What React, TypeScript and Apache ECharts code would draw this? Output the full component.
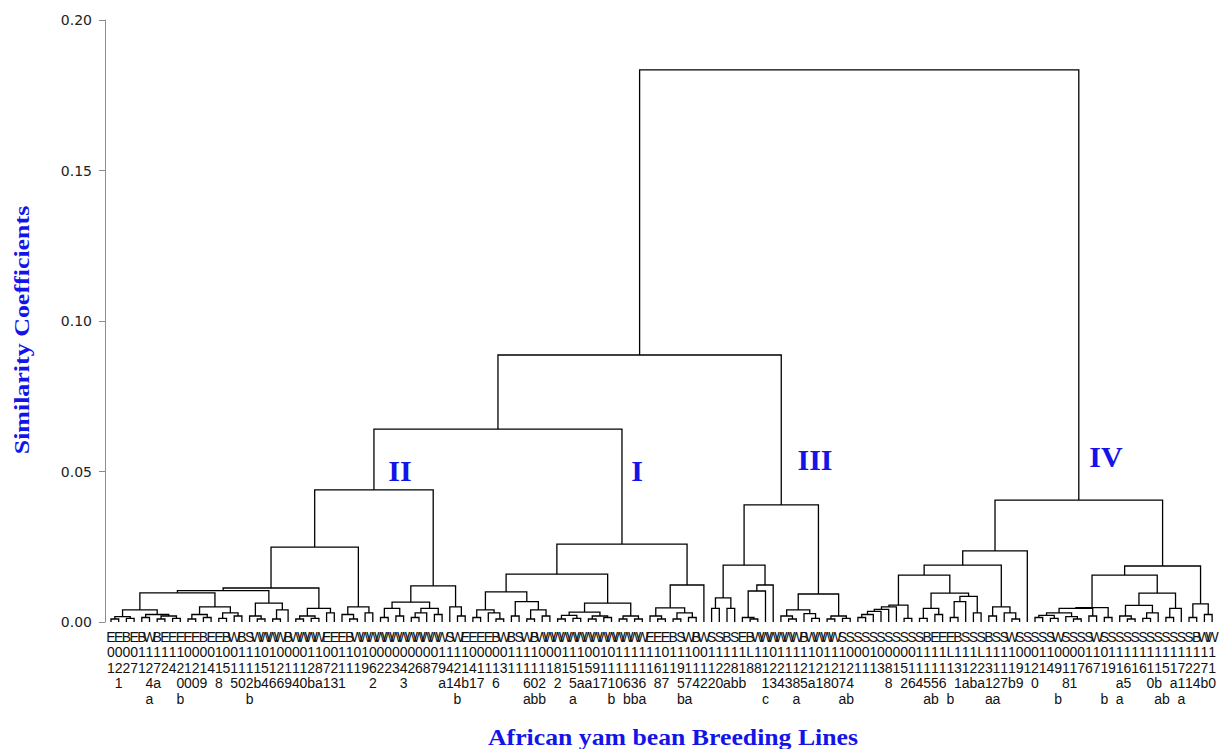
import React, { useEffect, useRef } from "react";
import * as echarts from "echarts";

// one leaf of the dendrogram
const o = null;

// node = [joining height, left child, right child]; leaves (o) are numbered left to right
// Cluster II
const c1 = [0.004, [0.0018, [0.001, o, o], [0.0012, o, o]], [0.0025, [0.0015, o, o], [0.002, [0.001, o, o], [0.0012, o, o]]]];
const s2 = [0.005, [0.0025, [0.001, o, o], [0.0015, o, o]], [0.003, [0.0012, o, o], [0.002, o, o]]];
const t2 = [0.0063, [0.002, o, [0.001, o, o]], [0.004, [0.001, o, o], o]];
const c3 = [0.0045, [0.002, [0.001, o, o], [0.0012, o, o]], [0.003, o, o]];
const b2 = [0.005, [0.0025, o, [0.001, o, o]], [0.003, o, o]];
const d1 = [0.0066, [0.0045, [0.0015, o, o], [0.002, o, o]], [0.0045, [0.003, [0.0015, o, o], o], [0.0025, o, o]]];
const d2 = [0.005, o, [0.002, o, o]];
const groupII = [0.0439, [0.0249, [0.0113, [0.0104, [0.0097, c1, s2], t2], c3], b2], [0.012, d1, d2]];

// Cluster I
const i1 = [0.01, [0.004, [0.0015, o, o], [0.003, o, [0.001, o, o]]], [0.0068, [0.002, o, o], [0.004, [0.001, o, o], [0.002, o, o]]]];
const i2 = [0.0063, [0.0033, [0.0022, [0.001, o, o], [0.0012, o, o]], [0.002, [0.001, o, o], [0.0015, o, o]]], [0.002, [0.001, o, o], [0.001, o, o]]];
const i3 = [0.0123, [0.0047, [0.002, o, [0.001, o, o]], [0.003, [0.001, o, o], [0.0015, o, o]]], o];
const groupI = [0.0259, [0.0159, i1, i2], i3];

// Cluster III
const e1 = [0.0189, [0.008, [0.0045, o, o], [0.0045, o, o]], [0.0123, [0.0103, [0.0015, o, [0.001, o, o]], o], o]];
const e2 = [0.0093, [0.004, [0.002, o, [0.001, o, o]], [0.0028, o, [0.0012, o, o]]], [0.002, [0.001, o, o], [0.0012, o, o]]];
const groupIII = [0.0389, e1, e2];

// Cluster IV
const f1 = [0.0056, [0.005, [0.0042, [0.0035, [0.0025, [0.0015, o, o], o], o], o], o], [0.0012, o, o]];
const f2 = [0.0096, [0.0045, [0.0012, o, o], [0.0025, o, o]], [0.0085, [0.0068, [0.0015, o, o], o], [0.003, o, o]]];
const f3 = [0.005, [0.002, o, o], [0.003, o, [0.001, o, o]]];
const f4 = [0.0048, [0.0045, [0.003, [0.0022, [0.0015, o, o], [0.0012, o, o]], [0.0018, o, [0.001, o, o]]], [0.002, o, o]], [0.0015, o, o]];
const f5 = [0.0096, [0.0055, [0.002, o, [0.001, o, o]], [0.003, [0.0012, o, o], o]], [0.0045, [0.0015, o, o], o]];
const f6 = [0.006, [0.0015, o, o], [0.0025, o, o]];
const groupIV = [0.0405, [0.0236, [0.0189, [0.0156, f1, f2], f3], o], [0.0186, [0.0156, f4, f5], f6]];

const rootHeights = [0.0641, 0.0887, 0.1834];
const tree = [rootHeights[2], [rootHeights[1], [rootHeights[0], groupII, groupI], groupIII], groupIV];

// leaf labels, written as five stacked character rows
const labelRow1 = "EEBEBWBEEEEEBEEBW" + "BSWWWWBWWWWEEEBWWW" + "WWWWWWWWWSWEEEEBWB" + "SWBWWWWWWWWWWWWWWE" + "EEBSWBWSSBSEBWWWWW" + "WBWWWWSSSSSSSSSSSB" + "EEEBSSSBSSWSSSSSWS" + "SSSWSSSSSSSSSSSSBWW";
const labelRow2 = "0000111111000010" + "0111010000110011010" + "000000001111000001" + "111000111001011111" + "101110011111L11011" + "111011100010000011" + "11L111L11110001100" + "0011011111111111111";
const labelRow3 = "12271272421214151111512111287211196223426879421411" + "131111118151591111111611911112281881221121212121" + "1138151111113122311191214911767191616115172271";
const labelRow4 = " 1   4a  0" + "009 8 502b" + "466940ba13" + "1   2   3 " + "   a14b17 " + "6   602 2 " + "5aa1710636" + " 87 574220" + "abb  13438" + "5a18074   " + " 8 264556 " + "1aba127b9 " + "0   81    " + " a5  0b a1" + "14b0";
const labelRow5 = "     a   b" + "        b " + "          " + "          " + "     b    " + "    abb   " + "a    b bba" + "    ba    " + "     c   a" + "     ab   " + "      ab b" + "    aa    " + "   b     b" + " a    ab a" + "    ";

const clusterNames = ["II", "I", "III", "IV"];
const yTicks = [0, 0.05, 0.1, 0.15, 0.2];

function layout(root: any) {
  const segs: number[][] = [];
  let leaf = 0;
  const walk = (n: any): { x: number; h: number } => {
    if (n === null) {
      const x = leaf++;
      return { x, h: 0 };
    }
    const l = walk(n[1]);
    const r = walk(n[2]);
    segs.push([l.x, l.h, r.x, r.h, n[0]]);
    return { x: (l.x + r.x) / 2, h: n[0] };
  };
  walk(root);
  return { segs, count: leaf };
}

export default function App() {
  const ref = useRef<HTMLDivElement>(null);
  useEffect(() => {
    if (!ref.current) return;
    const chart = echarts.init(ref.current, undefined, { renderer: "svg" });
    const { segs, count } = layout(tree);
    const rows = [labelRow1, labelRow2, labelRow3, labelRow4, labelRow5];
    const leafLabels = Array.from({ length: count }, (_, i) =>
      rows.map((r) => (r[i] !== undefined ? r[i] : " ")).join("\n")
    );
    const blue = "#1414e8";
    const serif = "'Liberation Serif', 'Times New Roman', serif";
    const romanPos = [
      [400, 470],
      [637, 470],
      [815, 459],
      [1106, 456],
    ];
    const yMin = yTicks[0];
    const yMax = yTicks[yTicks.length - 1];
    chart.setOption({
      animation: false,
      grid: [
        { left: 107.15, right: 6.05, top: 20, bottom: 127, containLabel: false },
        { left: 105, right: 6.05, top: 20, bottom: 127, containLabel: false },
      ],
      xAxis: [
        { type: "value", gridIndex: 0, min: -0.5, max: count - 0.5, show: false },
        {
          type: "category",
          gridIndex: 0,
          data: leafLabels,
          position: "bottom",
          boundaryGap: true,
          axisLine: { show: false },
          axisTick: { show: false },
          splitLine: { show: false },
          axisLabel: {
            interval: 0,
            fontSize: 14,
            lineHeight: 15.5,
            fontFamily: "'Liberation Sans', Arial, sans-serif",
            color: "#111",
            margin: 7,
            verticalAlign: "top",
          },
        },
        { type: "value", gridIndex: 1, min: 0, max: 1, show: false },
      ],
      yAxis: [
        { type: "value", gridIndex: 0, min: yMin, max: yMax, show: false },
        {
          type: "value",
          gridIndex: 1,
          min: yMin,
          max: yMax,
          interval: 0.05,
          axisLine: { show: true, lineStyle: { color: "#8c8c8c", width: 1 } },
          axisTick: { show: true, length: 6, lineStyle: { color: "#8c8c8c" } },
          splitLine: { show: false },
          axisLabel: {
            formatter: (v: number) => v.toFixed(2),
            fontSize: 14,
            fontFamily: "'DejaVu Sans', sans-serif",
            color: "#222",
            margin: 13,
          },
        },
      ],
      series: [
        {
          type: "custom",
          xAxisIndex: 0,
          yAxisIndex: 0,
          data: segs,
          encode: { x: [0, 2], y: [1, 3, 4] },
          renderItem: (params: any, api: any) => {
            const xl = api.value(0);
            const hl = api.value(1);
            const xr = api.value(2);
            const hr = api.value(3);
            const h = api.value(4);
            const pts = [api.coord([xl, hl]), api.coord([xl, h]), api.coord([xr, h]), api.coord([xr, hr])];
            return {
              type: "polyline",
              shape: { points: pts },
              style: { stroke: "#000", lineWidth: 1.3, fill: null },
            };
          },
        },
      ],
      graphic: [
        {
          type: "text",
          x: 673,
          y: 737,
          scaleX: 1.12,
          style: {
            text: "African yam bean Breeding Lines",
            fontSize: 23,
            fontWeight: "bold",
            fontFamily: serif,
            fill: blue,
            align: "center",
            verticalAlign: "middle",
          },
        },
        {
          type: "text",
          x: 22,
          y: 330,
          rotation: Math.PI / 2,
          scaleX: 1.18,
          style: {
            text: "Similarity Coefficients",
            fontSize: 22,
            fontWeight: "bold",
            fontFamily: serif,
            fill: blue,
            align: "center",
            verticalAlign: "middle",
          },
        },
        ...clusterNames.map((name, k) => ({
          type: "text",
          x: romanPos[k][0],
          y: romanPos[k][1],
          style: {
            text: name,
            fontSize: 30,
            fontWeight: "bold",
            fontFamily: serif,
            fill: blue,
            align: "center",
            verticalAlign: "middle",
          },
        })),
      ],
    });
    return () => chart.dispose();
  }, []);
  return <div ref={ref} style={{ position: "absolute", left: 0, top: 0, width: 1222, height: 749 }} />;
}
